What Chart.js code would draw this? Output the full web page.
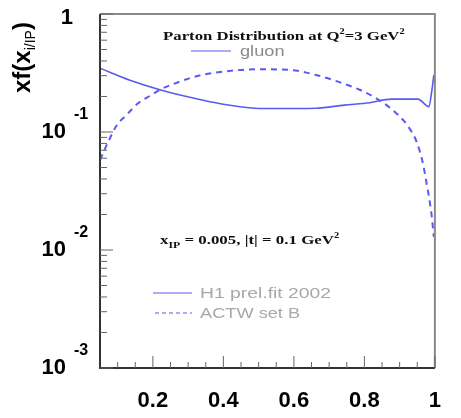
<!DOCTYPE html>
<html>
<head>
<meta charset="utf-8">
<script src="https://cdn.jsdelivr.net/npm/chart.js@4.4.1/dist/chart.umd.min.js"></script>
<style>
  html, body { margin: 0; padding: 0; background: #fff; }
  #wrap { width: 461px; height: 418px; position: relative; }
</style>
</head>
<body>
<div id="wrap"><canvas id="pdf"></canvas></div>
<script>
// H1 prel. fit 2002 - gluon
const gluonX = [0.05, 0.133, 0.2225, 0.311, 0.399, 0.489, 0.55, 0.663, 0.743, 0.815, 0.877, 0.952, 0.983, 0.991, 0.997];
const gluonY = [0.347, 0.276, 0.227, 0.195, 0.172, 0.159, 0.158, 0.159, 0.169, 0.177, 0.190, 0.190, 0.164, 0.220, 0.304];

// ACTW set B - gluon
const actwX = [0.05, 0.0713, 0.098, 0.1247, 0.159, 0.196, 0.2225, 0.276, 0.329, 0.399, 0.489, 0.592, 0.663, 0.725, 0.788, 0.841, 0.885, 0.921, 0.948, 0.965, 0.975, 0.99, 0.997];
const actwY = [0.0579, 0.0802, 0.1146, 0.139, 0.176, 0.206, 0.230, 0.267, 0.300, 0.324, 0.340, 0.335, 0.304, 0.267, 0.227, 0.187, 0.149, 0.115, 0.0828, 0.056, 0.039, 0.0205, 0.0129];

const xTickVals = [0.2, 0.4, 0.6, 0.8, 1.0];
const xMinorVals = [0.1, 0.15, 0.25, 0.3, 0.35, 0.45, 0.5, 0.55, 0.65, 0.7, 0.75, 0.85, 0.9, 0.95];
const yDecadeExps = [0, -1, -2, -3];

const LINE_BLUE = '#5a5af2';
const toPts = (xs, ys) => xs.map((x, i) => ({ x, y: ys[i] }));

// draw a run of text pieces [text, font, dy] left to right, stretched by sx
function drawRich(ctx, parts, x, y, color, sx = 1) {
    ctx.save();
    ctx.translate(x, y);
    ctx.scale(sx, 1);
    ctx.fillStyle = color;
    ctx.textBaseline = 'alphabetic';
    ctx.textAlign = 'left';
    let cx = 0;
    parts.forEach(([t, font, dy]) => {
        ctx.font = font;
        ctx.fillText(t, cx, dy || 0);
        cx += ctx.measureText(t).width;
    });
    ctx.restore();
}

const framePlugin = {
    id: 'frame',
    afterDraw(chart) {
        const { ctx, chartArea: a, scales } = chart;
        const xs = scales.x, ys = scales.y;
        ctx.save();

        // frame: top/right lighter, left/bottom dark
        ctx.lineWidth = 2;
        ctx.strokeStyle = '#8a8a8a';
        ctx.beginPath();
        ctx.moveTo(a.left, a.top); ctx.lineTo(a.right, a.top); ctx.lineTo(a.right, a.bottom);
        ctx.stroke();
        ctx.strokeStyle = '#333';
        ctx.beginPath();
        ctx.moveTo(a.left, a.top); ctx.lineTo(a.left, a.bottom); ctx.lineTo(a.right, a.bottom);
        ctx.stroke();

        // inward ticks, x axis
        ctx.lineWidth = 1;
        ctx.strokeStyle = '#666';
        ctx.beginPath();
        xTickVals.forEach(v => {
            const p = xs.getPixelForValue(v);
            ctx.moveTo(p, a.bottom); ctx.lineTo(p, a.bottom - 12);
        });
        xMinorVals.forEach(v => {
            const p = xs.getPixelForValue(v);
            ctx.moveTo(p, a.bottom); ctx.lineTo(p, a.bottom - 6);
        });
        // inward ticks, y axis (log)
        yDecadeExps.forEach(e => {
            const base = Math.pow(10, e);
            const p = ys.getPixelForValue(base);
            ctx.moveTo(a.left, p); ctx.lineTo(a.left + 13, p);
            if (e > -1) return;
            for (let m = 2; m <= 9; m++) {
                const q = ys.getPixelForValue(base * m);
                ctx.moveTo(a.left, q); ctx.lineTo(a.left + 7, q);
            }
        });
        ctx.stroke();

        // y tick labels with exponents
        ctx.fillStyle = '#000';
        ctx.textBaseline = 'middle';
        yDecadeExps.forEach(e => {
            const p = ys.getPixelForValue(Math.pow(10, e));
            ctx.font = 'bold 22px "Liberation Sans", Arial, sans-serif';
            ctx.textAlign = 'right';
            if (e === 0) {
                ctx.fillText('1', 73, p + 4);
                return;
            }
            ctx.fillText('10', 66, p);
            ctx.font = 'bold 16px "Liberation Sans", Arial, sans-serif';
            ctx.textAlign = 'left';
            ctx.fillText(String(e), 74, p - 17);
        });

        // y axis title, rotated
        ctx.save();
        ctx.translate(30, 93);
        ctx.rotate(-Math.PI / 2);
        drawRich(ctx, [
            ['xf(x', 'bold 24px "Liberation Sans", Arial, sans-serif', 0],
            ['i/IP', '14px "Liberation Sans", Arial, sans-serif', 5],
            [')', 'bold 24px "Liberation Sans", Arial, sans-serif', 0]
        ], 0, 0, '#000');
        ctx.restore();

        // heading
        const serifB = s => `bold ${s}px "Liberation Serif", "Times New Roman", serif`;
        drawRich(ctx, [
            ['Parton Distribution at Q', serifB(13), 0],
            ['2', serifB(8), -6],
            ['=3 GeV', serifB(13), 0],
            ['2', serifB(8), -6]
        ], 163, 40, '#111', 1.29);

        // kinematic point
        drawRich(ctx, [
            ['x', serifB(13), 0],
            ['IP', serifB(9), 4],
            [' = 0.005, |t| = 0.1 GeV', serifB(13), 0],
            ['2', serifB(8), -6]
        ], 160, 244, '#111', 1.3);

        // legend entries
        const sans = '14px "Liberation Sans", Arial, sans-serif';
        ctx.strokeStyle = LINE_BLUE;
        ctx.lineWidth = 1.2;
        ctx.setLineDash([]);
        ctx.beginPath(); ctx.moveTo(191, 51); ctx.lineTo(231, 51); ctx.stroke();
        ctx.beginPath(); ctx.moveTo(153, 293); ctx.lineTo(192, 293); ctx.stroke();
        ctx.setLineDash([4, 3]);
        ctx.beginPath(); ctx.moveTo(155, 313); ctx.lineTo(192, 313); ctx.stroke();
        ctx.setLineDash([]);
        drawRich(ctx, [['gluon', sans, 0]], 240, 56, '#8a8a8a', 1.3);
        drawRich(ctx, [['H1 prel.fit 2002', sans, 0]], 200, 298, '#a8a8a8', 1.38);
        drawRich(ctx, [['ACTW set B', sans, 0]], 200, 318, '#a8a8a8', 1.3);

        ctx.restore();
    }
};

new Chart(document.getElementById('pdf'), {
    type: 'line',
    data: {
        datasets: [
            {
                label: 'H1 prel.fit 2002',
                data: toPts(gluonX, gluonY),
                borderColor: LINE_BLUE,
                borderWidth: 1.6,
                pointRadius: 0,
                cubicInterpolationMode: 'monotone'
            },
            {
                label: 'ACTW set B',
                data: toPts(actwX, actwY),
                borderColor: LINE_BLUE,
                borderWidth: 2,
                borderDash: [6, 5],
                pointRadius: 0,
                cubicInterpolationMode: 'monotone'
            }
        ]
    },
    options: {
        responsive: true,
        maintainAspectRatio: false,
        animation: false,
        layout: { padding: { top: 14, right: 5, left: 0, bottom: 0 } },
        plugins: { legend: { display: false }, tooltip: { enabled: false } },
        scales: {
            x: {
                type: 'linear',
                min: 0.05,
                max: 1,
                grid: { display: false, drawTicks: false },
                border: { display: false },
                afterBuildTicks: s => { s.ticks = xTickVals.map(v => ({ value: v })); },
                afterFit: s => { s.height = 50; },
                ticks: {
                    padding: 20,
                    color: '#000',
                    font: { family: '"Liberation Sans", Arial, sans-serif', size: 22, weight: 'bold' },
                    maxRotation: 0,
                    autoSkip: false,
                    callback: v => (v === 1 ? '1' : v.toFixed(1))
                }
            },
            y: {
                type: 'logarithmic',
                min: 0.001,
                max: 1,
                grid: { display: false },
                border: { display: false },
                ticks: { display: false },
                afterFit: s => { s.width = 100; }
            }
        }
    },
    plugins: [framePlugin]
});
</script>
</body>
</html>
